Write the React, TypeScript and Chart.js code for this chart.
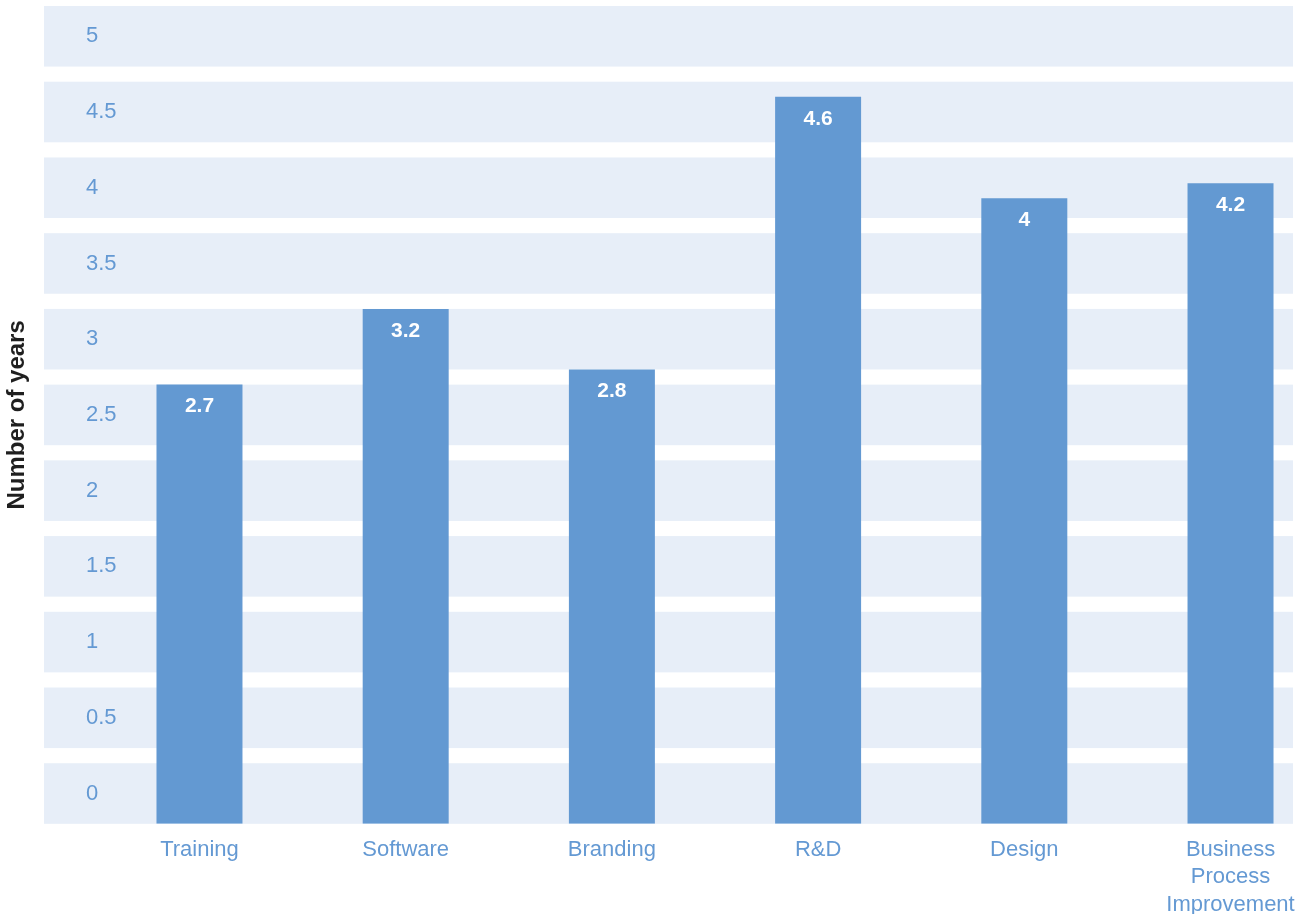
import React, { useEffect, useRef } from "react";
import { Chart, registerables } from "chart.js";

Chart.register(...registerables);

const categories = ["Training", "Software", "Branding", "R&D", "Design", "Business Process Improvement"];
const categoryLines = [["Training"], ["Software"], ["Branding"], ["R&D"], ["Design"], ["Business", "Process", "Improvement"]];
const barValues = [2.7, 3.2, 2.8, 4.6, 3.93, 4.03];
const barLabels = ["2.7", "3.2", "2.8", "4.6", "4", "4.2"];
const yTicks = [0, 0.5, 1, 1.5, 2, 2.5, 3, 3.5, 4, 4.5, 5];
const yTickLabels = ["0", "0.5", "1", "1.5", "2", "2.5", "3", "3.5", "4", "4.5", "5"];

const FONT = '"Liberation Sans", Arial, Helvetica, sans-serif';
const BAR_COLOR = "#6399d2";
const BAND_COLOR = "#e7eef8";
const TICK_COLOR = "#6499d3";

const bandPlugin = {
  id: "bands",
  beforeDraw(chart: any) {
    const { ctx, chartArea, scales } = chart;
    const y = scales.y;
    ctx.save();
    ctx.fillStyle = BAND_COLOR;
    yTicks.forEach((t) => {
      const top = y.getPixelForValue(t + 0.2);
      const bot = y.getPixelForValue(t - 0.2);
      ctx.fillRect(chartArea.left, top, chartArea.right - chartArea.left, bot - top);
    });
    ctx.restore();
  },
};

const valueLabelPlugin = {
  id: "valueLabels",
  afterDatasetsDraw(chart: any) {
    const meta = chart.getDatasetMeta(0);
    const ctx = chart.ctx;
    ctx.save();
    ctx.fillStyle = "#ffffff";
    ctx.font = `bold 21px ${FONT}`;
    ctx.textAlign = "center";
    ctx.textBaseline = "middle";
    meta.data.forEach((el: any, i: number) => {
      ctx.fillText(barLabels[i], el.x, el.y + 22);
    });
    ctx.restore();
  },
};

export default function App() {
  const canvasRef = useRef<HTMLCanvasElement | null>(null);

  useEffect(() => {
    if (!canvasRef.current) return;
    const chart = new Chart(canvasRef.current, {
      type: "bar",
      data: {
        datasets: [
          {
            label: "Number of years",
            data: barValues.map((v, i) => ({ x: i, y: v })),
            backgroundColor: BAR_COLOR,
            base: -0.2,
            barPercentage: 0.417,
            categoryPercentage: 1,
          } as any,
        ],
      },
      options: {
        animation: false,
        responsive: false,
        layout: { padding: { left: 3, right: 16, top: 6, bottom: 0 } },
        plugins: {
          legend: { display: false },
          tooltip: { enabled: false },
        },
        scales: {
          x: {
            type: "linear",
            offset: false,
            min: -0.754,
            max: 5.303,
            grid: { display: false, offset: false },
            border: { display: false },
            afterBuildTicks: (s: any) => {
              s.ticks = categories.map((_, i) => ({ value: i }));
            },
            afterFit: (s: any) => {
              s.paddingLeft = 0;
              s.paddingRight = 0;
            },
            ticks: {
              autoSkip: false,
              maxRotation: 0,
              minRotation: 0,
              padding: 5,
              color: TICK_COLOR,
              font: { family: FONT, size: 22, lineHeight: 1.23 },
              callback: (v: any) => categoryLines[v as number] ?? "",
            },
          },
          y: {
            min: -0.2,
            max: 5.2,
            grid: { display: false },
            border: { display: false },
            afterBuildTicks: (s: any) => {
              s.ticks = yTicks.map((v) => ({ value: v }));
            },
            afterFit: (s: any) => {
              s.width = 41;
              s.paddingTop = 0;
              s.paddingBottom = 0;
            },
            ticks: {
              mirror: true,
              padding: 42,
              color: TICK_COLOR,
              font: { family: FONT, size: 22 },
              callback: (_v: any, idx: number) => yTickLabels[idx],
            },
            title: {
              display: true,
              text: "Number of years",
              color: "#1f1f1f",
              font: { family: FONT, size: 24, weight: "bold" },
              padding: { top: 0, bottom: 12 },
            },
          },
        },
      } as any,
      plugins: [bandPlugin, valueLabelPlugin],
    });
    return () => chart.destroy();
  }, []);

  return (
    <div style={{ position: "fixed", left: 0, top: 0, width: "1309px", height: "914px", overflow: "hidden", background: "#fff" }}>
      <canvas ref={canvasRef} width={1309} height={923} style={{ display: "block", width: "1309px", height: "923px" }} />
    </div>
  );
}
